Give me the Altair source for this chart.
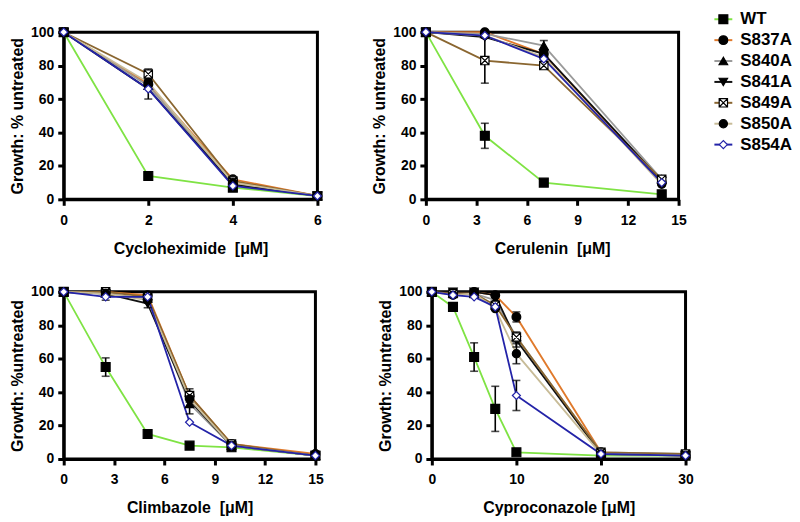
import altair as alt
import pandas as pd

series = ["WT", "S837A", "S840A", "S841A", "S849A", "S850A", "S854A"]
line_colors = ["#7fe344", "#e07a2c", "#9a9a9a", "#111111", "#8a6630", "#c8bc98", "#2323a8"]
marker_shapes = ["square", "circle", "triangle-up", "triangle-down",
                 "M-1,-1L1,-1L1,1L-1,1ZM-1,-1L1,1M1,-1L-1,1", "circle", "diamond"]
marker_fills = ["black", "black", "black", "black", "white", "black", "white"]
marker_strokes = ["black", "black", "black", "black", "black", "black", "#2323a8"]
marker_sizes = [80, 65, 65, 65, 60, 35, 65]
legend_sizes = [60, 50, 50, 50, 45, 30, 50]

# Cycloheximide
cyclo_x = [0, 2, 4, 6]
cyclo_y = {
    "WT": [100, 14, 7, 2],
    "S837A": [100, 69, 12, 2],
    "S840A": [100, 68, 10, 2],
    "S841A": [100, 66, 9, 2],
    "S849A": [100, 75, 11, 2],
    "S850A": [100, 70, 10, 2],
    "S854A": [100, 66, 8, 2],
}
cyclo_err = {
    "WT": [0, 0, 0, 0],
    "S837A": [0, 0, 0, 0],
    "S840A": [0, 0, 0, 0],
    "S841A": [0, 6, 0, 0],
    "S849A": [0, 3, 0, 0],
    "S850A": [0, 0, 0, 0],
    "S854A": [0, 0, 0, 0],
}

# Cerulenin
ceru_x = [0, 3.5, 7, 14]
ceru_y = {
    "WT": [100, 38, 10, 3],
    "S837A": [100, 100, 87, 10],
    "S840A": [100, 99, 92, 12],
    "S841A": [100, 97, 87, 11],
    "S849A": [100, 83, 80, 12],
    "S850A": [100, 98, 85, 9],
    "S854A": [100, 98, 84, 10],
}
ceru_err = {
    "WT": [0, 7.5, 0, 0],
    "S837A": [0, 0, 0, 0],
    "S840A": [0, 0, 3, 0],
    "S841A": [0, 0, 0, 0],
    "S849A": [0, 13.5, 0, 0],
    "S850A": [0, 0, 0, 0],
    "S854A": [0, 0, 0, 0],
}

# Climbazole
climb_x = [0, 2.5, 5, 7.5, 10, 15]
climb_y = {
    "WT": [100, 55, 15, 8, 7, 2],
    "S837A": [100, 100, 98, 38, 9, 3],
    "S840A": [100, 99, 96, 33, 8, 2],
    "S841A": [100, 99, 93, 35, 8, 2],
    "S849A": [100, 100, 97, 38, 9, 2],
    "S850A": [100, 99, 95, 36, 8, 2],
    "S854A": [100, 97, 97, 22, 8, 2],
}
climb_err = {
    "WT": [0, 5.5, 0, 0, 0, 0],
    "S837A": [0, 0, 0, 0, 0, 0],
    "S840A": [0, 0, 0, 6, 0, 0],
    "S841A": [0, 0, 2.5, 0, 0, 0],
    "S849A": [0, 0, 0, 4, 0, 0],
    "S850A": [0, 0, 0, 0, 0, 0],
    "S854A": [0, 2, 0, 0, 0, 0],
}

# Cyproconazole
cypro_x = [0, 2.5, 5, 7.5, 10, 20, 30]
cypro_y = {
    "WT": [100, 91, 61, 30, 4, 2, 2],
    "S837A": [100, 99, 100, 98, 85, 4, 2],
    "S840A": [100, 99, 99, 95, 73, 4, 3],
    "S841A": [100, 100, 100, 98, 71, 3, 2],
    "S849A": [100, 99, 99, 92, 73, 4, 3],
    "S850A": [100, 98, 99, 90, 63, 3, 2],
    "S854A": [100, 98, 97, 91, 38, 3, 2],
}
cypro_err = {
    "WT": [0, 0, 8.5, 13.5, 0, 0, 0],
    "S837A": [0, 0, 0, 0, 3, 0, 0],
    "S840A": [0, 0, 0, 0, 3, 0, 0],
    "S841A": [0, 0, 0, 0, 4, 0, 0],
    "S849A": [0, 0, 0, 0, 0, 0, 0],
    "S850A": [0, 0, 0, 0, 6, 0, 0],
    "S854A": [0, 0, 0, 0, 9, 0, 0],
}

y_ticks = [0, 20, 40, 60, 80, 100]
FONT = "Liberation Sans"


def build_df(xs, ys, errs):
    rows = []
    for si, s in enumerate(series):
        for xv, yv, ev in zip(xs, ys[s], errs[s]):
            rows.append({"series": s, "order": si, "x": xv, "y": yv, "err": ev,
                         "lo": yv - ev, "hi": yv + ev})
    return pd.DataFrame(rows)


def marker_enc(sizes):
    return dict(
        shape=alt.Shape("series:N", scale=alt.Scale(domain=series, range=marker_shapes), legend=None),
        fill=alt.Fill("series:N", scale=alt.Scale(domain=series, range=marker_fills), legend=None),
        stroke=alt.Stroke("series:N", scale=alt.Scale(domain=series, range=marker_strokes), legend=None),
        size=alt.Size("series:N", scale=alt.Scale(domain=series, range=sizes), legend=None),
    )


def panel(df, xdom, xticks, xtitle, ytitle, w):
    base = alt.Chart(df)
    xscale = alt.Scale(domain=xdom, nice=False, zero=False)
    yscale = alt.Scale(domain=[0, 100], nice=False)
    xaxis = alt.Axis(values=xticks, title=xtitle, format="d", labelOverlap=False,
                     labelPadding=8, titlePadding=13)
    yaxis = alt.Axis(values=y_ticks, title=ytitle, format="d", labelOverlap=False,
                     labelPadding=4, titlePadding=5)

    def X():
        return alt.X("x:Q", scale=xscale, axis=xaxis)

    def Y(f):
        return alt.Y(f, scale=yscale, axis=yaxis)

    color = alt.Color("series:N", scale=alt.Scale(domain=series, range=line_colors), legend=None)
    lines = base.mark_line(strokeWidth=1.8).encode(x=X(), y=Y("y:Q"), color=color, order="x:Q")
    errdf = base.transform_filter("datum.err > 0")
    bars = errdf.mark_rule(color="black", strokeWidth=1.6).encode(
        x=X(), y=Y("lo:Q"), y2="hi:Q")
    cap_lo = errdf.mark_tick(color="black", thickness=1.6, size=8, orient="horizontal").encode(
        x=X(), y=Y("lo:Q"))
    cap_hi = errdf.mark_tick(color="black", thickness=1.6, size=8, orient="horizontal").encode(
        x=X(), y=Y("hi:Q"))
    pts = base.mark_point(filled=True, opacity=1, strokeWidth=1.2).encode(
        x=X(), y=Y("y:Q"), **marker_enc(marker_sizes))
    return alt.layer(lines, bars, cap_lo, cap_hi, pts).properties(width=w, height=168)


p1 = panel(build_df(cyclo_x, cyclo_y, cyclo_err), [0, 6], [0, 2, 4, 6],
           "Cycloheximide\u00a0 [\u03bcM]", "Growth: % untreated", 255)
p2 = panel(build_df(ceru_x, ceru_y, ceru_err), [0, 15], [0, 3, 6, 9, 12, 15],
           "Cerulenin\u00a0 [\u03bcM]", "Growth: % untreated", 254)
p3 = panel(build_df(climb_x, climb_y, climb_err), [0, 15], [0, 3, 6, 9, 12, 15],
           "Climbazole\u00a0 [\u03bcM]", "Growth: %untreated", 253)
p4 = panel(build_df(cypro_x, cypro_y, cypro_err), [0, 30], [0, 10, 20, 30],
           "Cyproconazole [\u03bcM]", "Growth: %untreated", 255)

# custom legend
leg_df = pd.DataFrame({"series": series})
LY = alt.Y("series:N", scale=alt.Scale(type="point", domain=series, padding=0), axis=None)
OFF = -13
leg_rule = alt.Chart(leg_df).mark_rule(strokeWidth=2, yOffset=OFF).encode(
    y=LY, x=alt.value(0), x2=alt.value(18),
    color=alt.Color("series:N", scale=alt.Scale(domain=series, range=line_colors), legend=None))
leg_pts = alt.Chart(leg_df).mark_point(filled=True, opacity=1, strokeWidth=1.2, yOffset=OFF).encode(
    y=LY, x=alt.value(9), **marker_enc(legend_sizes))
leg_txt = alt.Chart(leg_df).mark_text(align="left", baseline="middle", font=FONT, fontSize=17,
                                      fontWeight="bold", color="black", yOffset=OFF).encode(
    y=LY, x=alt.value(26), text="series:N")
legend = alt.layer(leg_rule, leg_pts, leg_txt).properties(
    width=70, height=126, view=alt.ViewConfig(stroke=None))

row1 = alt.hconcat(alt.hconcat(p1, p2, spacing=44), legend, spacing=25)
row2 = alt.hconcat(p3, p4, spacing=51)

chart = alt.vconcat(row1, row2, spacing=25).properties(
    padding={"left": 0, "top": 1, "right": 0, "bottom": 0}
).resolve_scale(
    x="independent", y="independent"
).configure_view(
    stroke="black", strokeWidth=3
).configure_axis(
    domainColor="black", domainWidth=3, tickColor="black", tickWidth=3, tickSize=6,
    labelFont=FONT, labelFontWeight="bold", labelFontSize=14, labelColor="black",
    labelOverlap=False, labelBound=False, labelFlush=False,
    titleFont=FONT, titleFontWeight="bold", titleFontSize=16, titleColor="black",
    grid=False,
)

chart.save("out.html", embed_options={"renderer": "svg", "actions": False})
